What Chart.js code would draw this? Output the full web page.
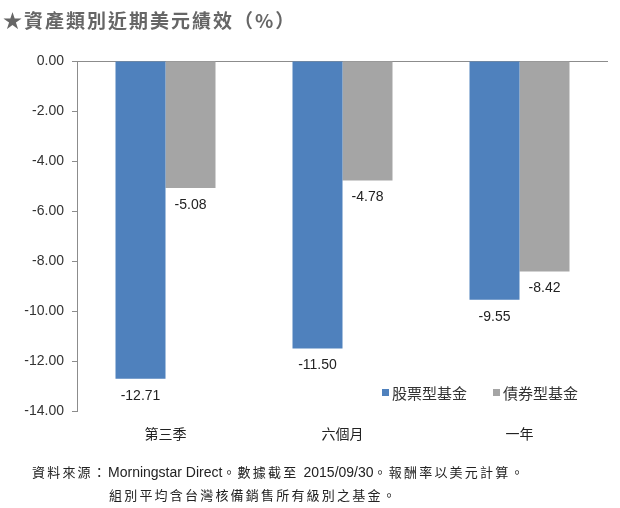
<!DOCTYPE html>
<html>
<head>
<meta charset="utf-8">
<script src="https://cdn.jsdelivr.net/npm/chart.js@4/dist/chart.umd.min.js"></script>
<style>
  body { margin: 0; background: #fff; }
  #wrap { position: relative; width: 620px; height: 508px; overflow: hidden; }
  #title { position: absolute; left: 3px; top: 6px; font: bold 19px "Noto Sans CJK TC", sans-serif; color: #666; letter-spacing: 2px; }
  #note { position: absolute; left: 32px; top: 460px; font: 13px "Noto Sans CJK TC", sans-serif; color: #222; line-height: 23px; letter-spacing: 2.2px; }
  #note div + div { padding-left: 77px; }
  #note span { font: 14px "Liberation Sans Narrow", "Liberation Sans", sans-serif; letter-spacing: 0; }
  canvas { position: absolute; left: 0; top: 0; }
</style>
</head>
<body>
<div id="wrap">
  <canvas id="chart" width="620" height="508"></canvas>
  <div id="title">★資產類別近期美元績效（%）</div>
  <div id="note">
    <div>資料來源：<span>Morningstar Direct</span>。數據截至 <span>2015/09/30</span>。報酬率以美元計算。</div>
    <div>組別平均含台灣核備銷售所有級別之基金。</div>
  </div>
</div>
<script>
// data
const categories = ['第三季', '六個月', '一年'];
const seriesNames = ['股票型基金', '債券型基金'];
const equityValues = [-12.71, -11.50, -9.55];
const bondValues = [-5.08, -4.78, -8.42];
const yTicks = [0, -2, -4, -6, -8, -10, -12, -14];

const colors = {
    blue: '#4F81BD',
    gray: '#A5A5A5',
    axis: '#8C8C8C',
    text: '#333333'
};

// value labels under the end of each bar
const barLabels = {
    id: 'barLabels',
    afterDatasetsDraw(chart) {
        const ctx = chart.ctx;
        ctx.save();
        ctx.font = '14px "Liberation Sans", sans-serif';
        ctx.fillStyle = '#222';
        ctx.textAlign = 'center';
        ctx.textBaseline = 'middle';
        chart.data.datasets.forEach((ds, i) => {
            chart.getDatasetMeta(i).data.forEach((bar, j) => {
                ctx.fillText(ds.data[j].toFixed(2), bar.x, bar.y + 17);
            });
        });
        ctx.restore();
    }
};

// legend inside the plot, lower right
const innerLegend = {
    id: 'innerLegend',
    afterDraw(chart) {
        const ctx = chart.ctx;
        ctx.save();
        ctx.font = '15px "Noto Sans CJK TC", sans-serif';
        ctx.textBaseline = 'middle';
        const y = 393;
        const xs = [382, 493];
        chart.data.datasets.forEach((ds, i) => {
            ctx.fillStyle = ds.backgroundColor;
            ctx.fillRect(xs[i], y - 4, 7, 7);
            ctx.fillStyle = '#333';
            ctx.fillText(ds.label, xs[i] + 10, y);
        });
        ctx.restore();
    }
};

new Chart(document.getElementById('chart').getContext('2d'), {
    type: 'bar',
    data: {
        labels: categories,
        datasets: [{
            label: seriesNames[0],
            data: equityValues,
            backgroundColor: colors.blue
        }, {
            label: seriesNames[1],
            data: bondValues,
            backgroundColor: colors.gray
        }]
    },
    options: {
        responsive: false,
        animation: false,
        layout: {
            padding: { left: 0, top: 61, right: 12, bottom: 60 }
        },
        datasets: {
            bar: {
                categoryPercentage: 0.565,
                barPercentage: 1.0
            }
        },
        plugins: {
            legend: { display: false },
            tooltip: { enabled: false }
        },
        scales: {
            x: {
                grid: { display: false },
                border: { display: false },
                ticks: {
                    color: '#222',
                    padding: 6,
                    font: { size: 14, family: '"Noto Sans CJK TC", sans-serif' }
                },
                afterFit(scale) { scale.height = 37; }
            },
            y: {
                min: -14,
                max: 0,
                afterBuildTicks(scale) {
                    scale.ticks = yTicks.map(v => ({ value: v }));
                },
                border: { color: colors.axis, width: 1 },
                grid: {
                    color: c => (c.tick && c.tick.value === 0 ? colors.axis : 'transparent'),
                    tickColor: colors.axis,
                    tickLength: 5
                },
                ticks: {
                    color: colors.text,
                    padding: 8,
                    font: { size: 14, family: '"Liberation Sans", sans-serif' },
                    callback: v => v.toFixed(2)
                },
                afterFit(scale) { scale.width = 77; }
            }
        }
    },
    plugins: [barLabels, innerLegend]
});
</script>
</body>
</html>
